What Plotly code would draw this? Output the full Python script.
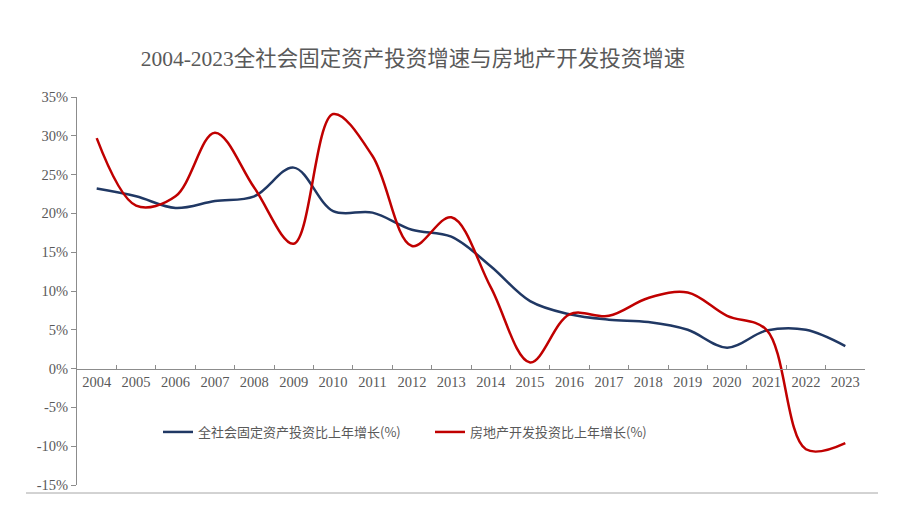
import plotly.graph_objects as go

years = [str(y) for y in range(2004, 2024)]
fixed_asset_growth = [23.2, 22.2, 20.7, 21.6, 22.2, 25.9, 20.3, 20.1, 17.9, 17.0,
                      13.2, 8.7, 7.0, 6.3, 6.0, 5.0, 2.7, 4.9, 5.0, 2.9]
real_estate_growth = [29.7, 21.0, 22.2, 30.4, 23.3, 16.1, 32.8, 27.4, 15.8, 19.5,
                      10.5, 0.8, 7.0, 6.8, 9.1, 9.8, 6.8, 5.0, -10.4, -9.6]
y_ticks = [35, 30, 25, 20, 15, 10, 5, 0, -5, -10, -15]
y_tick_labels = [f"{v}%" for v in y_ticks]

name_fixed = "全社会固定资产投资比上年增长(%)"
name_estate = "房地产开发投资比上年增长(%)"
title_text = "2004-2023全社会固定资产投资增速与房地产开发投资增速"

serif = "Liberation Serif, 'Times New Roman', 'Noto Sans CJK SC', serif"
cjk = "'Noto Sans CJK SC', 'Liberation Serif', sans-serif"
grey = "#595959"

fig = go.Figure()
fig.add_trace(go.Scatter(
    x=years, y=fixed_asset_growth, name=name_fixed, mode="lines",
    line=dict(color="#203864", width=2.5, shape="spline", smoothing=1.0),
))
fig.add_trace(go.Scatter(
    x=years, y=real_estate_growth, name=name_estate, mode="lines",
    line=dict(color="#C00000", width=2.5, shape="spline", smoothing=1.0),
))

# page has an 8px body offset; figure coordinates below compensate for it
fig.update_layout(
    width=890, height=521,
    margin=dict(l=69, r=33, t=89, b=44, autoexpand=False),
    paper_bgcolor="white", plot_bgcolor="white",
    title=dict(text=title_text, x=405 / 890, xanchor="center", y=1 - 50 / 521, yanchor="middle",
               font=dict(family=serif, size=21.5, color=grey)),
    showlegend=True,
    legend=dict(orientation="h", x=(158 - 77) / 788, xanchor="left", y=(485 - 432) / 388, yanchor="middle",
                font=dict(family=cjk, size=13, color=grey), bgcolor="rgba(0,0,0,0)",
                itemwidth=30, entrywidth=227, entrywidthmode="pixels"),
    xaxis=dict(
        type="category", range=[-0.5, 19.5], anchor="free", position=0.3,
        showline=True, linecolor="#8c8c8c", linewidth=1,
        ticks="inside", tickson="boundaries", ticklen=4, tickcolor="#8c8c8c",
        showgrid=False, zeroline=False, tickangle=0, automargin=False,
        tickfont=dict(family=serif, size=14.5, color=grey),
    ),
    yaxis=dict(
        range=[-15, 35], tickvals=y_ticks, ticktext=y_tick_labels,
        showline=True, linecolor="#8c8c8c", linewidth=1,
        ticks="outside", ticklen=5, tickcolor="#8c8c8c",
        showgrid=False, zeroline=False, automargin=False,
        tickfont=dict(family=serif, size=14.5, color=grey),
    ),
    shapes=[dict(type="line", xref="paper", yref="paper",
                 x0=(26 - 77) / 788, x1=(878 - 77) / 788,
                 y0=-8 / 388, y1=-8 / 388,
                 line=dict(color="#a6a6a6", width=1))],
)

fig.write_html("out.html")
